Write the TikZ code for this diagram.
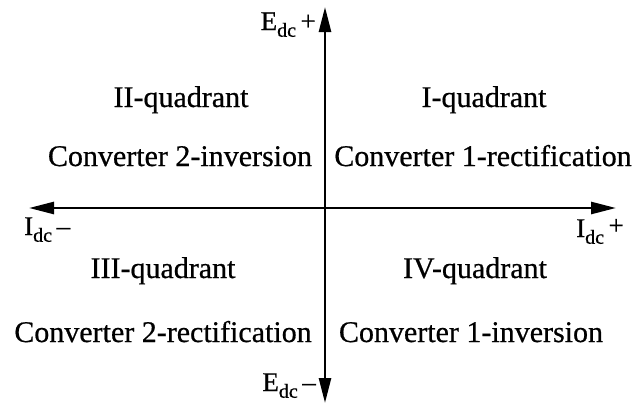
\documentclass[tikz,border=0pt]{standalone}
\usepackage{fontspec}
\setmainfont{Liberation Serif}
\newfontface\thickserif{Liberation Serif}[FakeBold=0.6]
\newcommand{\dcsub}{\raisebox{-0.25em}{\fontsize{20}{22}\selectfont dc}}
\usetikzlibrary{arrows.meta}
\begin{document}
\begin{tikzpicture}[x=1pt,y=-1pt,
  txt/.style={font=\thickserif\fontsize{30}{34}\selectfont, inner sep=0pt, anchor=base},
  lbl/.style={font=\thickserif\fontsize{27}{30}\selectfont, inner sep=0pt},
  axis/.style={line width=2.6pt, -{Triangle[length=25pt,width=12pt]}}]
\useasboundingbox (0,0) rectangle (638,405);
\coordinate (O) at (325,208);
\coordinate (top) at (325,7);
\coordinate (bot) at (325,403);
\coordinate (left) at (29,208);
\coordinate (right) at (616,208);
\draw[axis] (O) -- (top);
\draw[axis] (O) -- (bot);
\draw[axis] (O) -- (right);
\draw[axis] (O) -- (left);
\node[lbl, anchor=base east] (ep) at (316,30) {E\dcsub\,+};
\node[lbl, anchor=base east] (em) at (316,391) {E\dcsub\,–};
\node[lbl, anchor=base west] (im) at (24,235) {I\dcsub\,–};
\node[lbl, anchor=base east] (ip) at (624,237) {I\dcsub\,\raisebox{0.1em}{+}};
\node[txt] (q2) at (181,107) {II-quadrant};
\node[txt] (q1) at (484,107) {I-quadrant};
\node[txt] (c2i) at (180,166) {Converter 2-inversion};
\node[txt] (c1r) at (483,166) {Converter 1-rectification};
\node[txt] (q3) at (163,278) {III-quadrant};
\node[txt] (q4) at (475,278) {IV-quadrant};
\node[txt] (c2r) at (163,342) {Converter 2-rectification};
\node[txt] (c1i) at (471,342) {Converter 1-inversion};
\end{tikzpicture}
\end{document}
